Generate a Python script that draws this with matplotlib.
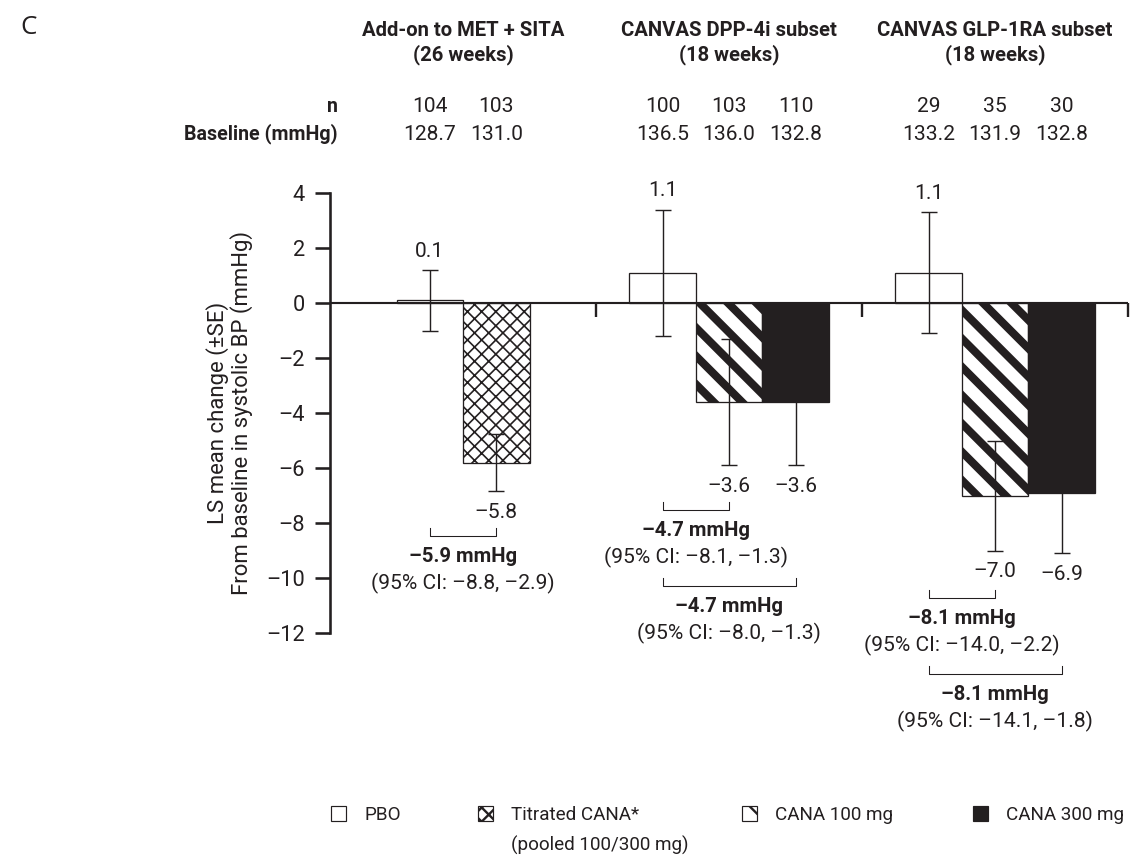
import numpy as np
import matplotlib
matplotlib.use("Agg")
import matplotlib.pyplot as plt
from matplotlib.patches import Patch
from matplotlib import transforms

plt.rcParams['font.family'] = ['Roboto', 'DejaVu Sans']

INK = '#231f20'
DASH = '\u2013'

# ---- data ----
groups = ['Add-on to MET + SITA\n(26 weeks)',
          'CANVAS DPP-4i subset\n(18 weeks)',
          'CANVAS GLP-1RA subset\n(18 weeks)']
# treatment per bar: 0 PBO, 1 Titrated CANA, 2 CANA 100, 3 CANA 300
arms = [[0, 1], [0, 2, 3], [0, 2, 3]]
means = [[0.1, -5.8], [1.1, -3.6, -3.6], [1.1, -7.0, -6.9]]
ses = [[1.1, 1.05], [2.3, 2.3, 2.3], [2.2, 2.0, 2.2]]
n_pts = [[104, 103], [100, 103, 110], [29, 35, 30]]
baseline = [[128.7, 131.0], [136.5, 136.0, 132.8], [133.2, 131.9, 132.8]]

# comparisons vs placebo: (group, bar from, bar to, diff, CI low, CI high)
comps = [(0, 0, 1, -5.9, -8.8, -2.9),
         (1, 0, 1, -4.7, -8.1, -1.3),
         (1, 0, 2, -4.7, -8.0, -1.3),
         (2, 0, 1, -8.1, -14.0, -2.2),
         (2, 0, 2, -8.1, -14.1, -1.8)]

arm_names = ['PBO', 'Titrated CANA*', 'CANA 100 mg', 'CANA 300 mg']
pooled_note = '(pooled 100/300 mg)'
yticks = [4, 2, 0, -2, -4, -6, -8, -10, -12]

# ---- figure ----
DPI = 170
W, H = 1131, 858
fig = plt.figure(figsize=(W / DPI, H / DPI), dpi=DPI)
ax = fig.add_axes([330 / W, 1 - 633 / H, 798 / W, 440 / H])

PX = 16 / 440.0        # data units per pixel (y)
PT = 72.0 / DPI        # points per pixel
FS = 8.9               # regular text
FB = 8.3               # bold text

styles = {
    0: dict(color='white', hatch=None, hlw=0.5),
    1: dict(color='white', hatch='xxxx', hlw=0.7),
    2: dict(color='white', hatch='\\\\', hlw=3.4),
    3: dict(color=INK, hatch=None, hlw=0.5),
}

gw = 4.0
centers = []
for g in range(len(groups)):
    k = len(arms[g])
    xs = g * gw + gw / 2 - k / 2 + 0.5 + np.arange(k)
    centers.append(xs)
    for x, a, m, s in zip(xs, arms[g], means[g], ses[g]):
        st = styles[a]
        with plt.rc_context({'hatch.linewidth': st['hlw'], 'hatch.color': INK}):
            b = ax.bar(x, m, width=1.0, color=st['color'], edgecolor=INK,
                       linewidth=0.55, hatch=st['hatch'], zorder=2)
        for p in b:
            if hasattr(p, 'set_hatch_linewidth'):
                p.set_hatch_linewidth(st['hlw'])
        ax.errorbar(x, m, yerr=s, fmt='none', ecolor=INK, elinewidth=0.6,
                    capsize=3.2, capthick=0.6, zorder=3)
        if m >= 0:
            ax.annotate(f'{m:.1f}', (x, m + s), xytext=(0, 19 * PT),
                        textcoords='offset points', ha='center', va='center',
                        fontsize=FS, color=INK)
        else:
            ax.annotate(f'{m:.1f}'.replace('-', DASH), (x, m - s),
                        xytext=(0, -21 * PT), textcoords='offset points',
                        ha='center', va='center', fontsize=FS, color=INK)

# zero line and group separators
ax.axhline(0, color=INK, lw=0.9, zorder=4)
ax.vlines([gw * (g + 1) for g in range(len(groups))], 0, -14 * PX,
          color=INK, lw=1.0, zorder=4, clip_on=False)

# comparison brackets
level = {}
for g, i, j, d, lo, hi in comps:
    lev = level.get(g, 0)
    level[g] = lev + 1
    low = min(m - s for m, s in zip(means[g], ses[g]))
    yb = low - 45 * PX - lev * 76 * PX
    x0, x1 = centers[g][i], centers[g][j]
    ax.plot([x0, x0, x1, x1], [yb + 8 * PX, yb, yb, yb + 8 * PX],
            color=INK, lw=0.45, clip_on=False)
    xm = (x0 + x1) / 2
    ax.text(xm, yb - 20 * PX, f'{d:.1f} mmHg'.replace('-', DASH),
            ha='center', va='center', fontsize=FB + 0.3, fontweight='bold',
            color=INK, clip_on=False)
    ax.text(xm, yb - 47 * PX,
            f'(95% CI: {lo:.1f}, {hi:.1f})'.replace('-', DASH),
            ha='center', va='center', fontsize=FS, color=INK, clip_on=False)

# axes styling
ax.set_xlim(0, gw * len(groups))
ax.set_ylim(-12, 4)
for sp in ['top', 'right', 'bottom']:
    ax.spines[sp].set_visible(False)
ax.spines['left'].set_linewidth(1.1)
ax.spines['left'].set_color(INK)
ax.set_xticks([])
ax.set_yticks(yticks)
ax.set_yticklabels([str(t).replace('-', DASH) for t in yticks])
ax.tick_params(axis='y', length=15 * PT, width=1.1, color=INK,
               labelsize=FS + 0.3, labelcolor=INK, pad=10 * PT)
ax.set_ylabel('LS mean change (\u00b1SE)\nFrom baseline in systolic BP (mmHg)',
              fontsize=9.4, color=INK, labelpad=13 * PT, linespacing=1.05)

# headers, n and baseline rows
tr = transforms.blended_transform_factory(ax.transData, ax.transAxes)
ay = lambda ypx: (633 - ypx) / 440.0
for g, name in enumerate(groups):
    ax.text(g * gw + gw / 2, ay(43), name, transform=tr, ha='center',
            va='center', fontsize=FB + 0.3, fontweight='bold', color=INK,
            linespacing=1.3)
    for x, nv, bl in zip(centers[g], n_pts[g], baseline[g]):
        ax.text(x, ay(107), str(nv), transform=tr, ha='center', va='center',
                fontsize=FS, color=INK)
        ax.text(x, ay(134), f'{bl:.1f}', transform=tr, ha='center',
                va='center', fontsize=FS, color=INK)
ax.text(0.12, ay(107), 'n', transform=tr, ha='right', va='center',
        fontsize=FB, fontweight='bold', color=INK)
ax.text(0.12, ay(134), 'Baseline (mmHg)', transform=tr, ha='right',
        va='center', fontsize=FB, fontweight='bold', color=INK)

fig.text(20 / W, 1 - 27 / H, 'C', fontsize=11, color=INK,
         family=['Open Sans', 'DejaVu Sans'], va='center', ha='left')

# legend: one entry per slot so each sits where the reference puts it
slots = [331, 478, 742, 973]
LFS = 8.0
texts = []
for a, xpx in enumerate(slots):
    st = styles[a]
    h = Patch(facecolor=st['color'], edgecolor=INK, linewidth=0.5,
              hatch=st['hatch'])
    if hasattr(h, 'set_hatch_linewidth'):
        h.set_hatch_linewidth(min(st['hlw'], 2.0))
    leg = fig.legend([h], [arm_names[a]], loc='center left',
                     bbox_to_anchor=(xpx / W, 1 - 815 / H), frameon=False,
                     fontsize=LFS, handlelength=0.8, handleheight=0.8,
                     handletextpad=0.95, borderpad=0, borderaxespad=0)
    for t in leg.get_texts():
        t.set_color(INK)
    texts.append(leg.get_texts()[0])

fig.canvas.draw()
bb = texts[1].get_window_extent()
fig.text(bb.x0 / W, 1 - 845 / H, pooled_note, fontsize=LFS,
         color=INK, ha='left', va='center')

fig.savefig('out.png', dpi=DPI)
